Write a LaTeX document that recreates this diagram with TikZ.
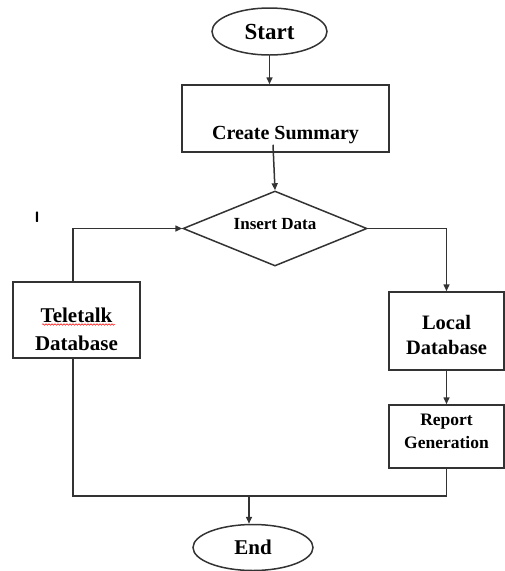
\documentclass[tikz,border=0pt]{standalone}
\usepackage{fontspec}
\setmainfont{Liberation Serif}
\usetikzlibrary{arrows.meta,shapes.geometric,decorations.pathmorphing}
\definecolor{flowline}{RGB}{51,51,51}
\begin{document}
\begin{tikzpicture}[x=1pt,y=-1pt,
box/.style={draw=flowline,line width=1.5pt,align=center,inner sep=0pt},
term/.style={ellipse,draw=flowline,line width=1.5pt,inner sep=0pt},
arr/.style={-{Triangle[length=7pt,width=6pt]},line width=1.5pt,draw=flowline},
link/.style={line width=1.5pt,draw=flowline}]
\useasboundingbox (0,0) rectangle (504,571);

\node[term,minimum width=115pt,minimum height=47pt,font=\fontsize{23}{27}\selectfont\bfseries](start)at(269.5,31.5){Start};
\node[box,minimum width=207pt,minimum height=67pt,font=\fontsize{20}{24}\selectfont\bfseries](summary)at(285.5,118.5){\rule{0pt}{46.5pt}Create Summary};
\node[box,diamond,aspect=2.45,minimum width=184pt,minimum height=75pt,font=\fontsize{17}{20}\selectfont\bfseries](insert)at(275,228.5){Insert Data\rule[-10pt]{0pt}{10pt}};
\node[box,minimum width=127pt,minimum height=76pt,font=\fontsize{21}{28}\selectfont\bfseries](teletalk)at(76.5,320){\rule{0pt}{32.3pt}Teletalk\\Database};
\node[box,minimum width=115pt,minimum height=78pt,font=\fontsize{20.5}{25}\selectfont\bfseries](local)at(446.5,331){\rule{0pt}{23pt}Local\\Database};
\node[box,minimum width=115pt,minimum height=63pt,font=\fontsize{17.5}{23}\selectfont\bfseries](report)at(446.5,436.5){Report\\Generation\rule[-10pt]{0pt}{10pt}};
\node[term,minimum width=120pt,minimum height=46pt,font=\fontsize{21}{25}\selectfont\bfseries](stop)at(253,547.5){End};
\node[font=\fontsize{15}{17}\sffamily\bfseries,inner sep=0pt](cursor)at(37,217){I};
\coordinate(merge)at(249,496);

\draw[arr](start.south)--(start.south|-summary.north);
\draw[arr]([xshift=-12.5pt,yshift=8pt]summary.south)--(insert.north);
\draw[arr]([xshift=-3.5pt]teletalk.north)|-(insert.west);
\draw[arr](insert.east)-|(local.north);
\draw[arr](local.south)--(report.north);
\draw[link](report.south)|-(merge)-|([xshift=-3.5pt]teletalk.south);
\draw[arr](merge)--(merge|-stop.north);
% spell-check squiggle
\draw[red,line width=.5pt,decorate,decoration={snake,amplitude=.8pt,segment length=3pt}]([xshift=-34.5pt,yshift=-4.5pt]teletalk.center)--([xshift=38.5pt,yshift=-4.5pt]teletalk.center);
\end{tikzpicture}
\end{document}
